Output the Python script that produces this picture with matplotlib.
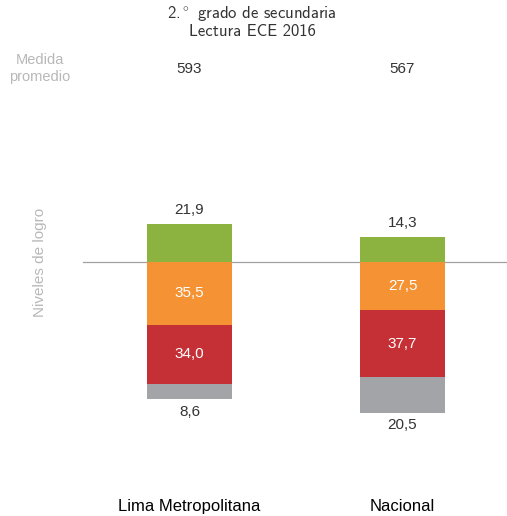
import matplotlib.pyplot as plt
import numpy as np

# data
regiones = ['Lima Metropolitana', 'Nacional']
medida_promedio = [593, 567]
satisfactorio = np.array([21.9, 14.3])
en_proceso = np.array([35.5, 27.5])
en_inicio = np.array([34.0, 37.7])
previo_inicio = np.array([8.6, 20.5])

verde = '#8cb240'
naranja = '#f59233'
rojo = '#c53036'
gris = '#a3a4a8'

def fmt(v):
    return f'{v:.1f}'.replace('.', ',')

fig = plt.figure(figsize=(5.07, 5.16), dpi=100)
ax = fig.add_axes([0, 0, 1, 1])
ax.set_xlim(-0.8897, 1.4906)
ax.set_ylim(-144.3, 148.9)
ax.axis('off')

x = np.arange(len(regiones))
w = 0.40

ax.axhline(0, xmin=83 / 507, xmax=1, color='#a0a0a0', lw=0.9, zorder=1)

# bars above / below the baseline
ax.bar(x, satisfactorio, w, color=verde, zorder=2)
ax.bar(x, -en_proceso, w, color=naranja, zorder=2)
ax.bar(x, -en_inicio, w, bottom=-en_proceso, color=rojo, zorder=2)
ax.bar(x, -previo_inicio, w, bottom=-(en_proceso + en_inicio), color=gris, zorder=2)

for i in range(len(regiones)):
    ax.annotate(fmt(satisfactorio[i]), (x[i], satisfactorio[i]), xytext=(0, 5),
                textcoords='offset points', ha='center', va='bottom',
                fontsize=11, color='#333333', family='Liberation Sans')
    ax.text(x[i], -en_proceso[i] / 2, fmt(en_proceso[i]), ha='center', va='center',
            fontsize=11, color='white', family='Liberation Sans')
    ax.text(x[i], -en_proceso[i] - en_inicio[i] / 2, fmt(en_inicio[i]), ha='center',
            va='center', fontsize=11, color='white', family='Liberation Sans')
    fondo = -(en_proceso[i] + en_inicio[i] + previo_inicio[i])
    ax.annotate(fmt(previo_inicio[i]), (x[i], fondo), xytext=(0, -4),
                textcoords='offset points', ha='center', va='top',
                fontsize=11, color='#333333', family='Liberation Sans')
    ax.text(x[i], 0.866, str(medida_promedio[i]), transform=ax.get_xaxis_transform(),
            ha='center', va='center', fontsize=11, color='#333333',
            family='Liberation Sans')
    ax.text(x[i], 0.018, regiones[i], transform=ax.get_xaxis_transform(),
            ha='center', va='center', fontsize=12, color='black',
            family='Liberation Sans')

fig.text(0.079, 0.867, 'Medida\npromedio', ha='center', va='center', fontsize=10.5,
         color='#b8b8b8', family='Liberation Sans', linespacing=1.25)
fig.text(0.079, 0.492, 'Niveles de logro', ha='center', va='center', rotation=90,
         fontsize=11, color='#b8b8b8', family='Liberation Sans')

fig.text(0.497, 0.973, r'2.$^\circ$ grado de secundaria', ha='center', va='center',
         fontsize=12, color='#333333', family='cmss10', math_fontfamily='cm')
fig.text(0.497, 0.939, 'Lectura ECE 2016', ha='center', va='center',
         fontsize=12, color='#333333', family='cmss10')

fig.savefig('out.png', dpi=100, facecolor='white')
